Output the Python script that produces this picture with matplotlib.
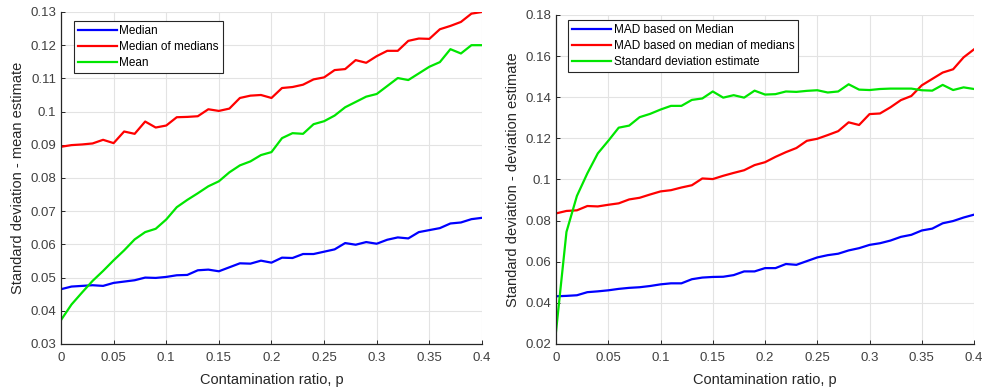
#!/usr/bin/env python

import numpy as np
import matplotlib
matplotlib.use("Agg")
import matplotlib.pyplot as plt

# contamination ratio p = 0, 0.01, ..., 0.4
p = [round(0.01 * i, 2) for i in range(41)]

# left panel: standard deviation of the mean estimate
median_mean = [0.0465, 0.0473, 0.0475, 0.0477, 0.0475, 0.0484, 0.0488, 0.0492, 0.0500, 0.0499,
               0.0502, 0.0507, 0.0508, 0.0522, 0.0524, 0.0519, 0.0531, 0.0543, 0.0542, 0.0551,
               0.0545, 0.0560, 0.0559, 0.0571, 0.0571, 0.0578, 0.0585, 0.0604, 0.0599, 0.0607,
               0.0602, 0.0614, 0.0621, 0.0618, 0.0637, 0.0643, 0.0649, 0.0663, 0.0666, 0.0676,
               0.0680]
mom_mean = [0.0894, 0.0899, 0.0901, 0.0904, 0.0915, 0.0905, 0.0940, 0.0933, 0.0970, 0.0952,
            0.0958, 0.0983, 0.0984, 0.0986, 0.1007, 0.1002, 0.1009, 0.1041, 0.1048, 0.1050,
            0.1041, 0.1071, 0.1074, 0.1081, 0.1097, 0.1103, 0.1125, 0.1128, 0.1155, 0.1147,
            0.1167, 0.1183, 0.1183, 0.1213, 0.1220, 0.1219, 0.1248, 0.1258, 0.1270, 0.1295,
            0.1300]
mean_mean = [0.0372, 0.0419, 0.0455, 0.0490, 0.0520, 0.0552, 0.0582, 0.0615, 0.0637, 0.0647,
             0.0675, 0.0712, 0.0734, 0.0754, 0.0775, 0.0790, 0.0817, 0.0838, 0.0850, 0.0869,
             0.0878, 0.0920, 0.0935, 0.0933, 0.0962, 0.0971, 0.0988, 0.1013, 0.1029, 0.1045,
             0.1053, 0.1077, 0.1101, 0.1095, 0.1115, 0.1135, 0.1149, 0.1188, 0.1175, 0.1200,
             0.1200]

# right panel: standard deviation of the deviation estimate
mad_median = [0.0432, 0.0434, 0.0437, 0.0452, 0.0456, 0.0461, 0.0468, 0.0473, 0.0476, 0.0482,
              0.0490, 0.0495, 0.0495, 0.0515, 0.0523, 0.0526, 0.0527, 0.0535, 0.0553, 0.0553,
              0.0569, 0.0569, 0.0589, 0.0585, 0.0603, 0.0621, 0.0632, 0.0639, 0.0655, 0.0666,
              0.0682, 0.0690, 0.0703, 0.0721, 0.0731, 0.0752, 0.0761, 0.0787, 0.0798, 0.0815,
              0.0829]
mad_mom = [0.0835, 0.0847, 0.0850, 0.0871, 0.0869, 0.0877, 0.0884, 0.0903, 0.0911, 0.0927,
           0.0942, 0.0948, 0.0961, 0.0972, 0.1005, 0.1002, 0.1018, 0.1032, 0.1045, 0.1070,
           0.1084, 0.1110, 0.1133, 0.1153, 0.1188, 0.1198, 0.1216, 0.1235, 0.1278, 0.1265,
           0.1318, 0.1321, 0.1351, 0.1386, 0.1406, 0.1458, 0.1489, 0.1520, 0.1536, 0.1594,
           0.1633]
std_est = [0.0260, 0.0745, 0.0920, 0.1030, 0.1127, 0.1188, 0.1252, 0.1262, 0.1303, 0.1319,
           0.1340, 0.1358, 0.1358, 0.1387, 0.1394, 0.1428, 0.1398, 0.1410, 0.1398, 0.1432,
           0.1413, 0.1415, 0.1428, 0.1426, 0.1431, 0.1434, 0.1423, 0.1428, 0.1463, 0.1437,
           0.1435, 0.1440, 0.1442, 0.1442, 0.1442, 0.1434, 0.1432, 0.1460, 0.1435, 0.1448,
           0.1440]

left_labels = ["Median", "Median of medians", "Mean"]
right_labels = ["MAD based on Median", "MAD based on median of medians",
                "Standard deviation estimate"]
colors = ["#0000ff", "#ff0000", "#00e600"]


def style_axes(ax, ylim, yticks, ylabel):
    """Estilo parecido a MATLAB"""
    ax.set_xlim(0, 0.4)
    ax.set_ylim(*ylim)
    ax.set_xticks(np.arange(0, 0.401, 0.05))
    ax.set_xticklabels(["0", "0.05", "0.1", "0.15", "0.2", "0.25", "0.3", "0.35", "0.4"])
    ax.set_yticks(yticks)
    ax.set_yticklabels(["%g" % t for t in yticks])
    ax.grid(True, color="#e3e3e3", linewidth=0.8)
    ax.set_axisbelow(True)
    for s in ["top", "right"]:
        ax.spines[s].set_visible(False)
    for s in ["left", "bottom"]:
        ax.spines[s].set_color("#262626")
        ax.spines[s].set_linewidth(0.9)
    ax.tick_params(direction="in", length=3, width=0.7, colors="#262626",
                   labelcolor="#404040", labelsize=9.5)
    ax.tick_params(axis="x", pad=6)
    ax.set_xlabel("Contamination ratio, p", fontsize=10.5, color="#262626", labelpad=6)
    ax.set_ylabel(ylabel, fontsize=10.5, color="#262626", labelpad=4)


def main():
    plt.rcParams["font.family"] = ["Liberation Sans", "DejaVu Sans"]
    fig = plt.figure(figsize=(9.82, 3.89), dpi=100)

    ax1 = fig.add_axes([0.0621, 0.1157, 0.4287, 0.8535])
    for y, lab, c in zip([median_mean, mom_mean, mean_mean], left_labels, colors):
        ax1.plot(p, y, color=c, linewidth=1.6, label=lab)
    style_axes(ax1, (0.03, 0.13), np.round(np.arange(0.03, 0.1301, 0.01), 2),
               "Standard deviation - mean estimate")

    ax2 = fig.add_axes([0.5662, 0.1157, 0.4257, 0.8458])
    for y, lab, c in zip([mad_median, mad_mom, std_est], right_labels, colors):
        ax2.plot(p, y, color=c, linewidth=1.6, label=lab)
    style_axes(ax2, (0.02, 0.18), np.round(np.arange(0.02, 0.1801, 0.02), 2),
               "Standard deviation - deviation estimate")

    for ax, anchor in [(ax1, (0.031, 0.973)), (ax2, (0.029, 0.985))]:
        leg = ax.legend(loc="upper left", bbox_to_anchor=anchor, fontsize=8.5,
                        handlelength=3.3, handletextpad=0.2, labelspacing=0.35,
                        borderpad=0.35, borderaxespad=0, fancybox=False, framealpha=1)
        leg.get_frame().set_edgecolor("#262626")
        leg.get_frame().set_linewidth(0.8)

    fig.savefig("out.png", dpi=100)


if __name__ == "__main__":
    main()
